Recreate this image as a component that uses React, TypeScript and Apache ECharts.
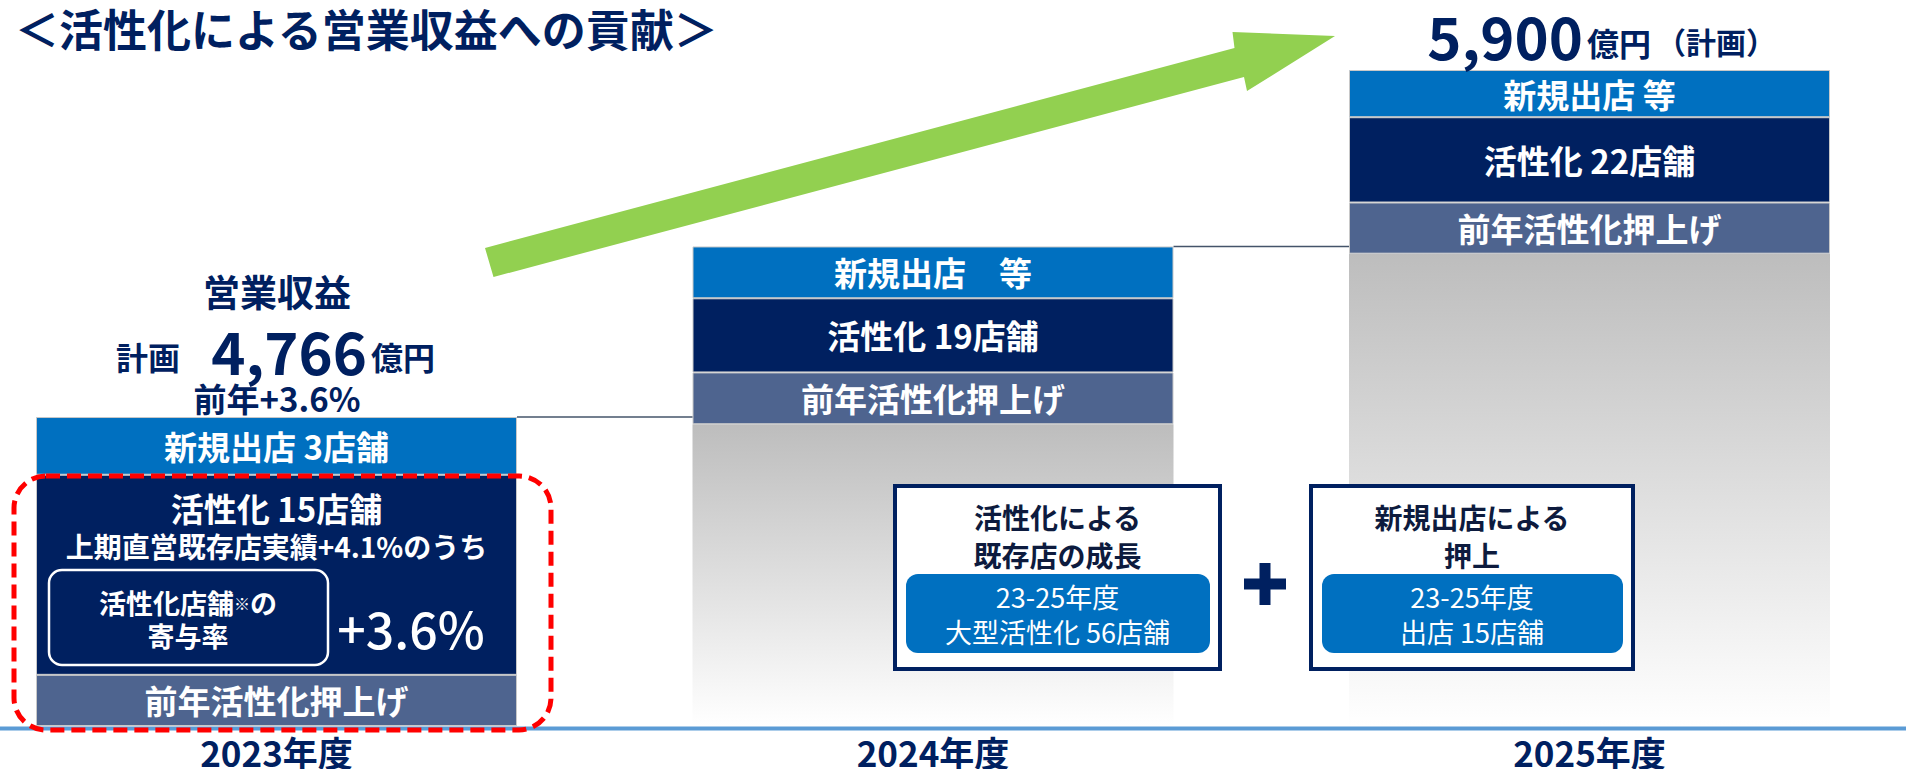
import React, { useEffect, useRef } from "react";
import * as echarts from "echarts";

// ---- data ----
const years = ["2023年度", "2024年度", "2025年度"];
// stacked segment heights in relative units (2025 total = 100)
const baseValues: (number | string)[] = ["-", 46.0, 72.0];
const prevYearValues = [7.8, 7.9, 7.8];
const activationValues = [30.5, 11.3, 13.0];
const newStoreValues = [8.8, 7.9, 7.2];

const prevYearLabels = ["前年活性化押上げ", "前年活性化押上げ", "前年活性化押上げ"];
const activationLabels = ["活性化 15店舗", "活性化 19店舗", "活性化 22店舗"];
const activationSubLabel = "上期直営既存店実績+4.1%のうち";
const newStoreLabels = ["新規出店 3店舗", "新規出店　等", "新規出店 等"];

const revenue2023 = "4,766";
const revenue2025 = "5,900";
const growth2023 = "前年+3.6%";
const contribution = "+3.6%";

const FONT = "'Noto Sans CJK JP', 'Noto Sans', sans-serif";
const NAVY = "#002060";
const BLUE = "#0070c0";
const SLATE = "#4e648f";
const BAR_W = 481;

function txt(x: number, y: number, text: string, size: number, opts: any = {}) {
  const align = opts.align || "center";
  return {
    type: "text",
    x,
    y,
    silent: true,
    z: opts.z ?? 50,
    style: {
      text,
      fill: opts.fill || NAVY,
      fontSize: size,
      fontWeight: opts.weight || "bold",
      fontFamily: FONT,
      align,
      textAlign: align,
      verticalAlign: "middle",
      textVerticalAlign: "middle",
      lineHeight: opts.lineHeight,
      rich: opts.rich,
    },
  };
}

export default function App() {
  const ref = useRef<HTMLDivElement>(null);

  useEffect(() => {
    document.body.style.margin = "0";
    if (!ref.current) return;
    const chart = echarts.init(ref.current, null, { renderer: "svg" });

    const labelBase = {
      show: true,
      position: "inside",
      color: "#ffffff",
      fontSize: 33,
      fontWeight: "bold",
      fontFamily: FONT,
    };
    const segBorder = { borderColor: "#c8c8c8", borderWidth: 1 };

    const option: any = {
      animation: false,
      textStyle: { fontFamily: FONT },
      grid: { left: 276.5, right: 316.5, top: 70, bottom: 43 },
      xAxis: {
        type: "category",
        data: years,
        boundaryGap: false,
        axisLine: { show: false },
        axisTick: { show: false },
        splitLine: { show: false },
        axisLabel: {
          color: NAVY,
          fontSize: 35,
          fontWeight: "bold",
          fontFamily: FONT,
          margin: 8,
          lineHeight: 34,
        },
      },
      yAxis: { type: "value", min: 0, max: 100, show: false },
      series: [
        {
          name: "base",
          type: "bar",
          stack: "s",
          barWidth: BAR_W,
          clip: false,
          silent: true,
          data: baseValues,
          itemStyle: {
            color: new echarts.graphic.LinearGradient(0, 0, 0, 1, [
              { offset: 0, color: "#bdbdbd" },
              { offset: 1, color: "#ffffff" },
            ]),
          },
          label: { show: false },
        },
        {
          name: "前年活性化押上げ",
          type: "bar",
          stack: "s",
          barWidth: BAR_W,
          clip: false,
          data: prevYearValues,
          itemStyle: { color: SLATE, ...segBorder },
          label: { ...labelBase, formatter: (p: any) => prevYearLabels[p.dataIndex] },
        },
        {
          name: "活性化",
          type: "bar",
          stack: "s",
          barWidth: BAR_W,
          clip: false,
          data: activationValues.map((v, i) =>
            i === 0 ? { value: v, label: { position: "insideTop", distance: 14 } } : v
          ),
          itemStyle: { color: NAVY, ...segBorder },
          label: {
            ...labelBase,
            formatter: (p: any) =>
              p.dataIndex === 0
                ? `{t|${activationLabels[0]}}\n{s|${activationSubLabel}}`
                : activationLabels[p.dataIndex],
            rich: {
              t: { fontSize: 33, fontWeight: "bold", color: "#fff", lineHeight: 38, fontFamily: FONT },
              s: { fontSize: 28, fontWeight: "bold", color: "#fff", lineHeight: 38, fontFamily: FONT },
            },
          },
        },
        {
          name: "新規出店",
          type: "bar",
          stack: "s",
          barWidth: BAR_W,
          clip: false,
          data: newStoreValues,
          itemStyle: { color: BLUE, ...segBorder },
          label: { ...labelBase, formatter: (p: any) => newStoreLabels[p.dataIndex] },
        },
      ],
    };
    chart.setOption(option);

    const totals = years.map(
      (_, i) =>
        (typeof baseValues[i] === "number" ? (baseValues[i] as number) : 0) +
        prevYearValues[i] +
        activationValues[i] +
        newStoreValues[i]
    );
    const pts = totals.map((t, i) => chart.convertToPixel({ gridIndex: 0 } as any, [i, t]) as number[]);

    const connectors = [0, 1].map((i) => ({
      type: "line",
      silent: true,
      z: 5,
      shape: {
        x1: pts[i][0] + BAR_W / 2,
        y1: pts[i][1],
        x2: pts[i + 1][0] - BAR_W / 2,
        y2: pts[i][1],
      },
      style: { stroke: "#44546a", lineWidth: 1.5 },
    }));

    const annotationBox = (x: number, w: number, head: string, body: string) => [
      {
        type: "rect",
        silent: true,
        z: 30,
        shape: { x, y: 486, width: w, height: 183 },
        style: { fill: "#ffffff", stroke: NAVY, lineWidth: 4 },
      },
      txt(x + w / 2, 536, head, 28, { fill: "#0d1b3e", lineHeight: 38, z: 40 }),
      {
        type: "rect",
        silent: true,
        z: 35,
        shape: { x: x + 11, y: 574, width: w - 21, height: 79, r: 12 },
        style: { fill: BLUE },
      },
      txt(x + w / 2, 614, body, 27, { fill: "#ffffff", weight: "normal", lineHeight: 35, z: 40 }),
    ];

    const graphics: any[] = [
      // baseline
      {
        type: "line",
        silent: true,
        z: 1,
        shape: { x1: 0, y1: 728.5, x2: 1906, y2: 728.5 },
        style: { stroke: "#5b9bd5", lineWidth: 4 },
      },
      // title
      txt(15, 28, "＜活性化による営業収益への貢献＞", 44, { align: "left", lineHeight: 48 }),
      // green arrow
      {
        type: "polygon",
        silent: true,
        z: 20,
        shape: {
          points: [
            [485, 248],
            [1234.5, 48],
            [1232.5, 32],
            [1335, 36],
            [1247, 91],
            [1244, 77],
            [493.5, 277],
          ],
        },
        style: { fill: "#92d050" },
      },
      // 2023 header
      txt(277, 291, "営業収益", 37, { lineHeight: 40 }),
      txt(116, 356, "計画", 32, { align: "left", lineHeight: 34 }),
      txt(367, 350, revenue2023, 58, { align: "right", lineHeight: 44 }),
      txt(371, 356, "億円", 32, { align: "left", lineHeight: 34 }),
      txt(277, 398, growth2023, 33, { lineHeight: 34 }),
      // 2025 header
      txt(1583, 35, revenue2025, 58, { align: "right", lineHeight: 44 }),
      txt(1587, 42, "億円", 32, { align: "left", lineHeight: 34 }),
      txt(1656, 41, "（計画）", 30, { align: "left", lineHeight: 34 }),
      // contribution box inside 2023 bar
      {
        type: "rect",
        silent: true,
        z: 30,
        shape: { x: 49, y: 570, width: 279, height: 95, r: 13 },
        style: { fill: "none", stroke: "#ffffff", lineWidth: 2.5 },
      },
      txt(188, 619, "{a|活性化店舗}{b|※}{a|の}\n{a|寄与率}", 27, {
        fill: "#ffffff",
        z: 40,
        rich: {
          a: { fontSize: 27, fontWeight: "bold", fill: "#ffffff", color: "#ffffff", lineHeight: 33, fontFamily: FONT },
          b: { fontSize: 16, fontWeight: "bold", fill: "#ffffff", color: "#ffffff", lineHeight: 33, fontFamily: FONT },
        },
      }),
      txt(411, 627, contribution, 50, { fill: "#ffffff", weight: 500, lineHeight: 52, z: 40 }),
      // red dashed highlight
      {
        type: "rect",
        silent: true,
        z: 60,
        shape: { x: 14, y: 476, width: 537, height: 254, r: 32 },
        style: { fill: "none", stroke: "#ff0000", lineWidth: 5, lineDash: [14, 7] },
      },
      // annotation boxes
      ...annotationBox(895, 325, "活性化による\n既存店の成長", "23-25年度\n大型活性化 56店舗"),
      ...annotationBox(1311, 322, "新規出店による\n押上", "23-25年度\n出店 15店舗"),
      // plus sign
      {
        type: "rect",
        silent: true,
        z: 30,
        shape: { x: 1244, y: 578.5, width: 42, height: 11 },
        style: { fill: NAVY },
      },
      {
        type: "rect",
        silent: true,
        z: 30,
        shape: { x: 1259.5, y: 563, width: 11, height: 42 },
        style: { fill: NAVY },
      },
      ...connectors,
    ];

    chart.setOption({ graphic: graphics });

    return () => {
      chart.dispose();
    };
  }, []);

  return <div ref={ref} style={{ width: 1906, height: 769 }} />;
}
